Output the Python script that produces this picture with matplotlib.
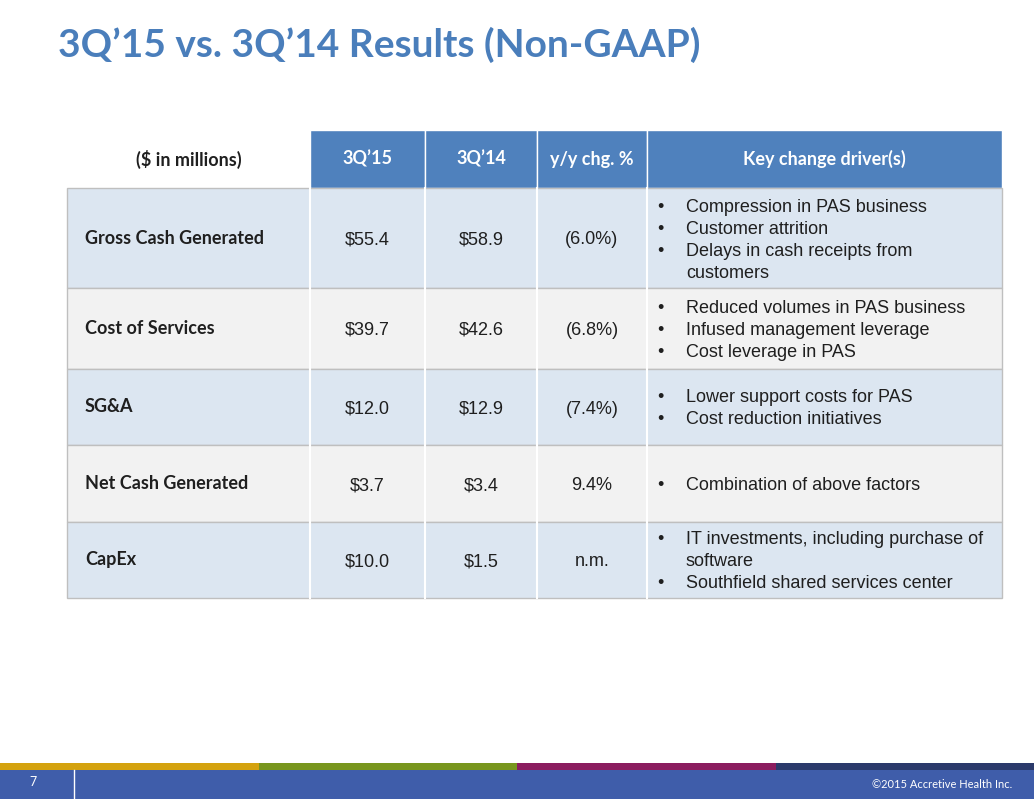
import matplotlib.pyplot as plt
from matplotlib.patches import Rectangle

# Данные таблицы
headers = ['($ in millions)', '3Q\u201915', '3Q\u201914', 'y/y chg. %', 'Key change driver(s)']
rows = ['Gross Cash Generated', 'Cost of Services', 'SG&A', 'Net Cash Generated', 'CapEx']
q15 = ['$55.4', '$39.7', '$12.0', '$3.7', '$10.0']
q14 = ['$58.9', '$42.6', '$12.9', '$3.4', '$1.5']
chg = ['(6.0%)', '(6.8%)', '(7.4%)', '9.4%', 'n.m.']
drivers = [
    ['Compression in PAS business', 'Customer attrition', 'Delays in cash receipts from\ncustomers'],
    ['Reduced volumes in PAS business', 'Infused management leverage', 'Cost leverage in PAS'],
    ['Lower support costs for PAS', 'Cost reduction initiatives'],
    ['Combination of above factors'],
    ['IT investments, including purchase of\nsoftware', 'Southfield shared services center'],
]

# Геометрия (в пикселях)
col_edges = [67, 310, 425, 537, 647, 1002]
row_edges = [130, 188, 288, 369, 445, 522, 598]
row_colors = ['#DCE6F1', '#F2F2F2', '#DCE6F1', '#F2F2F2', '#DCE6F1']
blue = '#4F81BD'

fig = plt.figure(figsize=(10.34, 7.99), dpi=100)
ax = fig.add_axes([0, 0, 1, 1])
ax.set_xlim(0, 1034)
ax.set_ylim(799, 0)
ax.axis('off')

ax.text(58, 45, '3Q\u201915 vs. 3Q\u201914 Results (Non-GAAP)', fontsize=28, fontweight='bold',
        family='Lato', color='#4A7EBB', va='center')

# Заголовок таблицы
for j, h in enumerate(headers):
    x0, x1 = col_edges[j], col_edges[j + 1]
    fc = 'white' if j == 0 else blue
    ax.add_patch(Rectangle((x0, row_edges[0]), x1 - x0, row_edges[1] - row_edges[0], fc=fc, ec='white', lw=1))
    ax.text((x0 + x1) / 2, (row_edges[0] + row_edges[1]) / 2, h, ha='center', va='center',
            fontsize=13, fontweight='bold', family='Lato', color='#1F1F1F' if j == 0 else 'white')

# Строки таблицы
for i, name in enumerate(rows):
    y0, y1 = row_edges[i + 1], row_edges[i + 2]
    ym = (y0 + y1) / 2
    ax.add_patch(Rectangle((col_edges[0], y0), col_edges[-1] - col_edges[0], y1 - y0,
                           fc=row_colors[i], ec='#BFBFBF', lw=1))
    for x in col_edges[1:-1]:
        ax.plot([x, x], [y0, y1], color='white', lw=1.5)
    ax.text(col_edges[0] + 18, ym, name, ha='left', va='center', fontsize=13,
            fontweight='bold', family='Lato', color='#1F1F1F')
    for j, val in enumerate([q15[i], q14[i], chg[i]]):
        ax.text((col_edges[j + 1] + col_edges[j + 2]) / 2, ym, val, ha='center', va='center_baseline',
                fontsize=13, family='Liberation Sans', color='#1F1F1F')
    lines = []
    for d in drivers[i]:
        parts = d.split('\n')
        lines.append(('\u2022', parts[0]))
        for p in parts[1:]:
            lines.append(('', p))
    lh = 22
    top = ym - lh * (len(lines) - 1) / 2
    for k, (b, t) in enumerate(lines):
        ax.text(col_edges[4] + 10, top + k * lh, b, ha='left', va='center_baseline', fontsize=13,
                family='Liberation Sans', color='#1F1F1F')
        ax.text(col_edges[4] + 39, top + k * lh, t, ha='left', va='center_baseline', fontsize=13,
                family='Liberation Sans', color='#1F1F1F')

# Нижний колонтитул
stripe = ['#D4A20E', '#78961E', '#8B1D5F', '#2B3A6B']
for k, c in enumerate(stripe):
    ax.add_patch(Rectangle((k * 258.5, 763), 258.5, 7, fc=c, ec='none'))
ax.add_patch(Rectangle((0, 770), 1034, 29, fc='#3F5DAA', ec='none'))
ax.plot([74, 74], [770, 799], color='white', lw=1)
ax.text(33, 782, '7', color='white', fontsize=9, family='Lato', ha='center', va='center')
ax.text(1012, 784, '\u00a92015 Accretive Health Inc.', color='white', fontsize=8, family='Lato',
        ha='right', va='center')

fig.savefig('out.png', dpi=100)
